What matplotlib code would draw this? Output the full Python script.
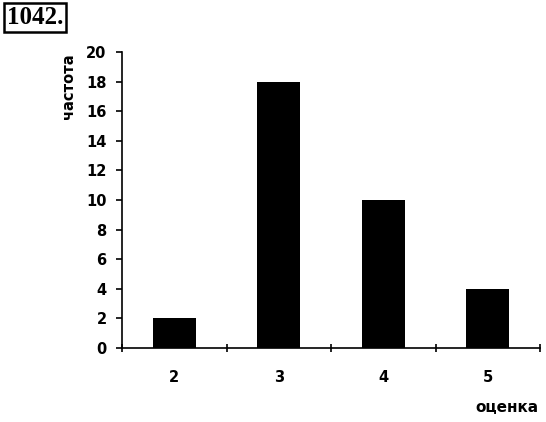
import matplotlib
matplotlib.use("Agg")
import matplotlib.pyplot as plt

categories = ["2", "3", "4", "5"]
values = [2, 18, 10, 4]
yticks = [0, 2, 4, 6, 8, 10, 12, 14, 16, 18, 20]

fig = plt.figure(figsize=(5.46, 4.22), dpi=100)
ax = fig.add_axes([122/546, 1-348/422, (540-122)/546, (348-52)/422])

x = list(range(len(categories)))
ax.bar(x, values, width=0.41, color="black")

ax.set_xlim(-0.5, len(categories) - 0.5)
ax.set_ylim(0, 20)
ax.set_yticks(yticks)
ax.set_yticklabels([str(t) for t in yticks], fontsize=10.5, fontweight="bold")
ax.set_xticks([i - 0.5 for i in range(len(categories) + 1)])
ax.set_xticklabels([])
ax.set_xticks(x, minor=True)
ax.set_xticklabels(categories, minor=True, fontsize=10.5, fontweight="bold")
ax.tick_params(axis="x", which="minor", length=0, pad=16)
ax.tick_params(axis="x", which="major", direction="inout", length=6, width=1.2)
ax.tick_params(axis="y", direction="out", length=4, width=1.2, pad=7)

for s in ["top", "right"]:
    ax.spines[s].set_visible(False)
ax.spines["left"].set_linewidth(1.2)
ax.spines["bottom"].set_linewidth(1.2)

fig.text(68/546, 1-86/422, "частота", rotation=90, ha="center", va="center",
         fontsize=10.5, fontweight="bold")
fig.text(507/546, 1-408/422, "оценка", ha="center", va="center",
         fontsize=11, fontweight="bold")
fig.text(7/546, 1-17/422, "1042.", ha="left", va="center", fontsize=18,
         fontweight="bold", family="Liberation Serif",
         bbox=dict(boxstyle="square,pad=0.12", fc="white", ec="black", lw=1.8))

fig.savefig("out.png", dpi=100)
